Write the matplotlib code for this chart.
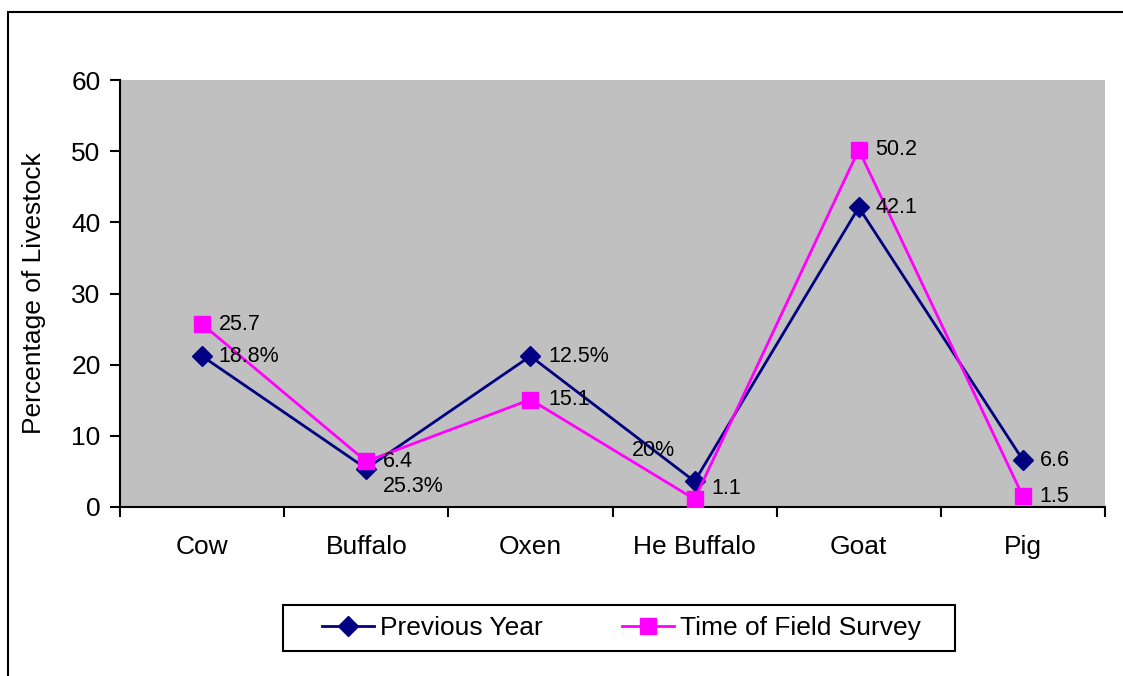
import matplotlib.pyplot as plt
from matplotlib.lines import Line2D
from matplotlib.patches import Rectangle

plt.rcParams["font.family"] = ["Liberation Sans", "DejaVu Sans"]

categories = ["Cow", "Buffalo", "Oxen", "He Buffalo", "Goat", "Pig"]
previous_year = [21.2, 5.4, 21.2, 3.6, 42.1, 6.6]
field_survey = [25.7, 6.4, 15.1, 1.1, 50.2, 1.5]
previous_labels = ["18.8%", "25.3%", "12.5%", "20%", "42.1", "6.6"]
survey_labels = ["25.7", "6.4", "15.1", "1.1", "50.2", "1.5"]
y_ticks = [0, 10, 20, 30, 40, 50, 60]

NAVY = "#000080"
MAGENTA = "#FF00FF"
AXIS_FS = 19
LABEL_FS = 15.5

fig = plt.figure(figsize=(11.23, 6.76), dpi=100)
W, H = 1123, 676
ax = fig.add_axes([120 / W, 1 - 507 / H, (1105 - 120) / W, (507 - 80) / H])
ax.set_facecolor("#C0C0C0")

# outer chart border, cut off on the right and bottom
fig.patches.append(Rectangle((8 / W, -0.05), 1.2, 1 - 12 / H + 0.05,
                             transform=fig.transFigure, fill=False,
                             edgecolor="black", linewidth=1.5))

x = list(range(len(categories)))
ax.plot(x, previous_year, color=NAVY, linewidth=2, marker="D", markersize=10,
        label="Previous Year", zorder=3)
ax.plot(x, field_survey, color=MAGENTA, linewidth=2, marker="s", markersize=11,
        label="Time of Field Survey", zorder=4)

# data labels: (dx, dy, ha) in points
prev_offsets = [(12, 0, "left"), (12, -13, "left"), (13, 0, "left"),
                (-14, 22, "right"), (12, 0, "left"), (12, 0, "left")]
survey_offsets = [(12, 0, "left"), (12, 0, "left"), (13, 0, "left"),
                  (12, 8, "left"), (12, 0, "left"), (12, 0, "left")]
for xi, v, lab, (dx, dy, ha) in zip(x, previous_year, previous_labels, prev_offsets):
    ax.annotate(lab, (xi, v), xytext=(dx, dy), textcoords="offset points",
                fontsize=LABEL_FS, va="center", ha=ha, zorder=5)
for xi, v, lab, (dx, dy, ha) in zip(x, field_survey, survey_labels, survey_offsets):
    ax.annotate(lab, (xi, v), xytext=(dx, dy), textcoords="offset points",
                fontsize=LABEL_FS, va="center", ha=ha, zorder=5)

ax.set_xlim(-0.5, len(categories) - 0.5)
ax.set_ylim(0, 60)
ax.set_yticks(y_ticks)
ax.set_xticks(x)
ax.set_xticklabels(categories)
ax.set_xticks([i - 0.5 for i in range(len(categories) + 1)], minor=True)
ax.tick_params(axis="x", which="major", length=0, pad=20, labelsize=AXIS_FS)
ax.tick_params(axis="x", which="minor", length=7, width=1.5, direction="out")
ax.tick_params(axis="y", length=7, width=1.5, direction="out",
               labelsize=AXIS_FS, pad=7)

for side in ("top", "right"):
    ax.spines[side].set_visible(False)
for side in ("left", "bottom"):
    ax.spines[side].set_linewidth(1.5)

ax.set_ylabel("Percentage of Livestock", fontsize=AXIS_FS)
ax.yaxis.set_label_coords(-74 / (1105 - 120), 0.5)

handles = [
    Line2D([], [], color=NAVY, linewidth=2, marker="D", markersize=10),
    Line2D([], [], color=MAGENTA, linewidth=2, marker="s", markersize=11),
]
fig.legend(handles, ["Previous Year", "Time of Field Survey"],
           loc="center", bbox_to_anchor=(621 / W, 1 - 628 / H),
           ncol=2, fontsize=AXIS_FS, frameon=False,
           columnspacing=3.0, handlelength=2.0,
           handletextpad=0.2, borderpad=0.35, borderaxespad=0)
# legend box, wider than the entries it holds
fig.patches.append(Rectangle((283 / W, 1 - 651 / H), (955 - 283) / W, 46 / H,
                             transform=fig.transFigure, fill=False,
                             edgecolor="black", linewidth=1.5))

fig.savefig("out.png", dpi=100)
